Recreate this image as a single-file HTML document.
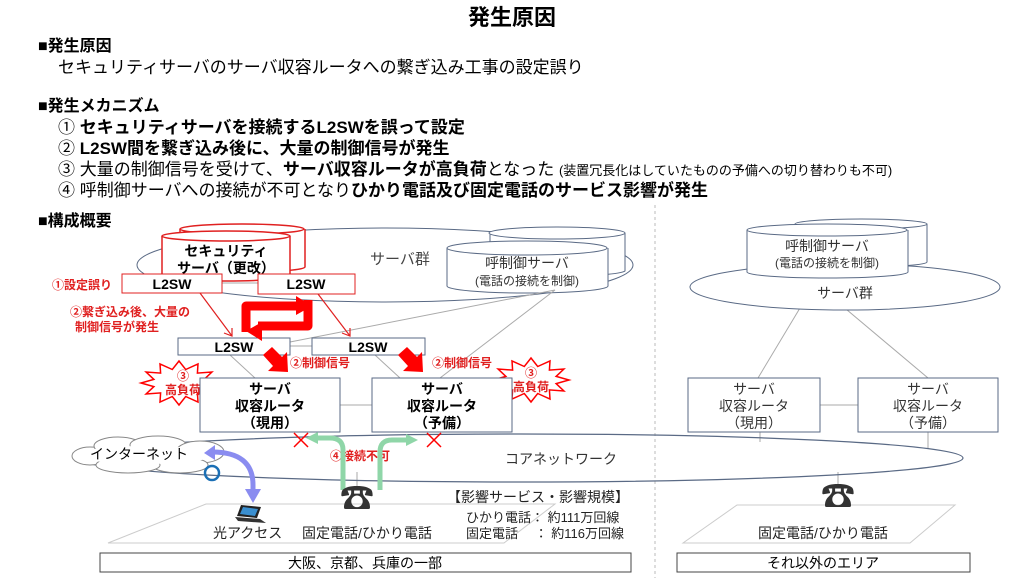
<!DOCTYPE html>
<html><head><meta charset="utf-8"><style>
body{margin:0;background:#fff}
svg{display:block;font-family:"Liberation Sans","Noto Sans CJK JP",sans-serif}
</style></head><body>
<svg width="1024" height="580" viewBox="0 0 1024 580" xmlns="http://www.w3.org/2000/svg">
<rect width="1024" height="580" fill="#fff"/>
<text x="512" y="25" text-anchor="middle" font-size="22" font-weight="bold">発生原因</text>
<text x="38" y="51" font-size="16" font-weight="bold">■発生原因</text>
<text x="58" y="73" font-size="17">セキュリティサーバのサーバ収容ルータへの繋ぎ込み工事の設定誤り</text>
<text x="38" y="111" font-size="16" font-weight="bold">■発生メカニズム</text>
<text x="58" y="133" font-size="17"><tspan>① </tspan><tspan font-weight="bold">セキュリティサーバを接続するL2SWを誤って設定</tspan></text>
<text x="58" y="154" font-size="17"><tspan>② </tspan><tspan font-weight="bold">L2SW間を繋ぎ込み後に、大量の制御信号が発生</tspan></text>
<text x="58" y="175" font-size="17"><tspan>③ 大量の制御信号を受けて、</tspan><tspan font-weight="bold">サーバ収容ルータが高負荷</tspan><tspan>となった </tspan><tspan font-size="13">(装置冗長化はしていたものの予備への切り替わりも不可)</tspan></text>
<text x="58" y="196" font-size="17"><tspan>④ 呼制御サーバへの接続が不可となり</tspan><tspan font-weight="bold">ひかり電話及び固定電話のサービス影響が発生</tspan></text>
<text x="38" y="226" font-size="16" font-weight="bold">■構成概要</text>

<line x1="655" y1="205" x2="655" y2="578" stroke="#bbb" stroke-dasharray="3,3"/>

<ellipse cx="385" cy="265" rx="248" ry="37" fill="none" stroke="#5a6a85"/>
<text x="370" y="264" font-size="15" fill="#444">サーバ群</text>
<g fill="#fff" stroke="#5a6a85">
<path d="M490 233 v38 a68 6 0 0 0 135 0 v-38"/><ellipse cx="557" cy="233" rx="68" ry="6"/>
<path d="M447 248 v38 a80 7 0 0 0 161 0 v-38"/><ellipse cx="527" cy="248" rx="80" ry="7"/>
</g>
<text x="527" y="268" text-anchor="middle" font-size="14" fill="#333">呼制御サーバ</text>
<text x="527" y="285" text-anchor="middle" font-size="12" fill="#333">(電話の接続を制御)</text>
<g fill="#fff" stroke="#e02020" stroke-width="1.5">
<path d="M180 229 v38 a62 5 0 0 0 125 0 v-38"/><ellipse cx="242" cy="229" rx="62" ry="5"/>
<path d="M162 236 v40 a64 5 0 0 0 128 0 v-40"/><ellipse cx="226" cy="236" rx="64" ry="5"/>
</g>
<text x="226" y="256" text-anchor="middle" font-size="14" font-weight="bold">セキュリティ</text>
<text x="226" y="273" text-anchor="middle" font-size="14" font-weight="bold">サーバ（更改）</text>

<g stroke="#aaa" stroke-width="1">
<line x1="222" y1="283" x2="258" y2="283"/>
<line x1="290" y1="346" x2="312" y2="346"/>
<line x1="340" y1="405" x2="372" y2="405"/>
<line x1="820" y1="405" x2="858" y2="405"/>
<line x1="555" y1="290" x2="290" y2="342"/>
<line x1="555" y1="290" x2="440" y2="378"/>
<line x1="375" y1="355" x2="400" y2="378"/>
<line x1="230" y1="355" x2="255" y2="378"/>
<line x1="815" y1="283" x2="758" y2="378"/>
<line x1="815" y1="283" x2="928" y2="378"/>
<line x1="760" y1="432" x2="760" y2="442"/>
<line x1="928" y1="432" x2="928" y2="448"/>
<line x1="838" y1="472" x2="838" y2="486"/>
<line x1="357" y1="472" x2="357" y2="487"/>
</g>

<g fill="#fff">
<rect x="122" y="274" width="100" height="19" stroke="#e02020"/>
<rect x="258" y="274" width="97" height="20" stroke="#e02020"/>
<rect x="178" y="338" width="112" height="17" stroke="#5a6a85"/>
<rect x="312" y="338" width="113" height="17" stroke="#5a6a85"/>
</g>
<g fill="#000" font-size="14" font-weight="bold" text-anchor="middle">
<text x="172" y="289">L2SW</text>
<text x="306" y="289">L2SW</text>
<text x="234" y="352">L2SW</text>
<text x="368" y="352">L2SW</text>
</g>
<g stroke="#e02020" stroke-width="1.2" fill="none">
<line x1="200" y1="293" x2="232" y2="336"/><polyline points="224,333 232,336 232,328"/>
<line x1="318" y1="294" x2="350" y2="336"/><polyline points="342,333 350,336 350,328"/>
</g>
<g fill="none" stroke="#f00" stroke-width="9" stroke-linejoin="round">
<path d="M246 332 V306 H298"/>
<path d="M308 300 V326 H258"/>
</g>
<polygon points="296,296 312,306 296,315" fill="#f00"/>
<polygon points="262,322 246,331 262,341" fill="#f00"/>
<g fill="#f00">
<polygon points="263,355 272,347 282,357 287,352 288,372 268,371 273,366"/>
<polygon points="398,355 407,347 417,357 422,352 423,372 403,371 408,366"/>
</g>
<g fill="#e02020" font-size="12" font-weight="bold">
<text x="52" y="289">①設定誤り</text>
<text x="70" y="316">②繋ぎ込み後、大量の</text>
<text x="75" y="331">制御信号が発生</text>
<text x="290" y="367">②制御信号</text>
<text x="432" y="367">②制御信号</text>
<text x="330" y="460">④接続不可</text>
</g>
<g fill="#fff" stroke="#f00" stroke-width="1.5">
<polygon transform="translate(179,383)" points="38,0 25.1,3.6 32.9,11 18.4,9.9 19,19.1 6.7,13.5 0,22 -6.7,13.5 -19,19.1 -18.4,9.9 -32.9,11 -25.1,3.6 -38,0 -25.1,-3.6 -32.9,-11 -18.4,-9.9 -19,-19.1 -6.7,-13.5 0,-22 6.7,-13.5 19,-19.1 18.4,-9.9 32.9,-11 25.1,-3.6"/>
<polygon transform="translate(531,380)" points="38,0 25.1,3.6 32.9,11 18.4,9.9 19,19.1 6.7,13.5 0,22 -6.7,13.5 -19,19.1 -18.4,9.9 -32.9,11 -25.1,3.6 -38,0 -25.1,-3.6 -32.9,-11 -18.4,-9.9 -19,-19.1 -6.7,-13.5 0,-22 6.7,-13.5 19,-19.1 18.4,-9.9 32.9,-11 25.1,-3.6"/>
</g>
<g fill="#e02020" font-size="12" font-weight="bold" text-anchor="middle">
<text x="183" y="380">③</text><text x="183" y="394">高負荷</text>
<text x="531" y="377">③</text><text x="531" y="391">高負荷</text>
</g>

<g fill="#fff" stroke="#5a6a85">
<rect x="200" y="378" width="140" height="54"/>
<rect x="372" y="378" width="140" height="54"/>
<rect x="688" y="378" width="132" height="54"/>
<rect x="858" y="378" width="140" height="54"/>
</g>
<g font-size="14" text-anchor="middle" font-weight="bold">
<text x="270" y="394">サーバ</text><text x="270" y="411">収容ルータ</text><text x="270" y="428">（現用）</text>
<text x="442" y="394">サーバ</text><text x="442" y="411">収容ルータ</text><text x="442" y="428">（予備）</text>
</g>
<g font-size="14" text-anchor="middle" fill="#333">
<text x="754" y="394">サーバ</text><text x="754" y="411">収容ルータ</text><text x="754" y="428">（現用）</text>
<text x="928" y="394">サーバ</text><text x="928" y="411">収容ルータ</text><text x="928" y="428">（予備）</text>
</g>

<ellipse cx="845" cy="287" rx="155" ry="23" fill="#fff" stroke="#5a6a85"/>
<text x="845" y="298" text-anchor="middle" font-size="14" fill="#333">サーバ群</text>
<g fill="#fff" stroke="#5a6a85">
<path d="M795 224 v38 a66 5 0 0 0 132 0 v-38"/><ellipse cx="861" cy="224" rx="66" ry="5"/>
<path d="M747 230 v42 a80 6 0 0 0 161 0 v-42"/><ellipse cx="827" cy="230" rx="80" ry="6"/>
</g>
<text x="827" y="251" text-anchor="middle" font-size="14" fill="#333">呼制御サーバ</text>
<text x="827" y="267" text-anchor="middle" font-size="12" fill="#333">(電話の接続を制御)</text>

<ellipse cx="520" cy="458" rx="443" ry="24" fill="none" stroke="#5a6a85" stroke-width="1.2"/>
<text x="505" y="464" font-size="14" fill="#333">コアネットワーク</text>

<g fill="#fff" stroke="#888">
<ellipse cx="90" cy="456" rx="18" ry="9"/>
<ellipse cx="118" cy="446" rx="24" ry="9"/>
<ellipse cx="158" cy="445" rx="28" ry="9"/>
<ellipse cx="200" cy="452" rx="24" ry="11"/>
<ellipse cx="180" cy="465" rx="28" ry="8"/>
<ellipse cx="128" cy="465" rx="32" ry="8"/>
</g>
<ellipse cx="145" cy="455" rx="68" ry="9" fill="#fff"/>
<text x="90" y="459" font-size="14">インターネット</text>

<path d="M212 452 Q253 452 253 485 V492" fill="none" stroke="#8a8cf0" stroke-width="5"/>
<polygon points="215,445 204,453 215,460" fill="#8a8cf0"/>
<polygon points="245,489 261,489 253,503" fill="#8a8cf0"/>
<circle cx="212" cy="473" r="7" fill="none" stroke="#1a6fb5" stroke-width="2.5"/>
<g fill="none" stroke="#8fd6a8" stroke-width="5">
<path d="M343 490 V450 Q343 438 330 438 H316"/>
<path d="M380 490 V452 Q380 440 392 440 H408"/>
</g>
<polygon points="318,432 306,438 318,444" fill="#8fd6a8"/>
<polygon points="406,434 418,440 406,446" fill="#8fd6a8"/>
<g stroke="#f00" stroke-width="1.5">
<line x1="294" y1="433" x2="308" y2="447"/><line x1="308" y1="433" x2="294" y2="447"/>
<line x1="427" y1="433" x2="441" y2="447"/><line x1="441" y1="433" x2="427" y2="447"/>
</g>

<polygon points="206,504 555,504 504,543 108,543" fill="none" stroke="#ccc"/>
<polygon points="737,505 955,505 910,543 683,543" fill="none" stroke="#ccc"/>
<text x="357" y="510" font-size="34" text-anchor="middle" fill="#333">☎</text>
<text x="838" y="508" font-size="34" text-anchor="middle" fill="#333">☎</text>
<polygon points="241,505 261,507 257,518 237,516" fill="#222"/>
<polygon points="243,507 258,509 255,516 240,514" fill="#3a8fd0"/>
<polygon points="235,517 260,519 266,523 238,521" fill="#333"/>
<g font-size="14" fill="#222">
<text x="213" y="538">光アクセス</text>
<text x="302" y="538">固定電話/ひかり電話</text>
<text x="447" y="502">【影響サービス・影響規模】</text>
<text x="466" y="522" font-size="13">ひかり電話： 約111万回線</text>
<text x="466" y="538" font-size="13">固定電話　 ： 約116万回線</text>
<text x="758" y="538">固定電話/ひかり電話</text>
</g>
<rect x="100" y="553" width="531" height="19" fill="#fff" stroke="#444"/>
<text x="365" y="568" text-anchor="middle" font-size="14">大阪、京都、兵庫の一部</text>
<rect x="677" y="553" width="293" height="19" fill="#fff" stroke="#444"/>
<text x="823" y="568" text-anchor="middle" font-size="14">それ以外のエリア</text>
</svg>
</body></html>
